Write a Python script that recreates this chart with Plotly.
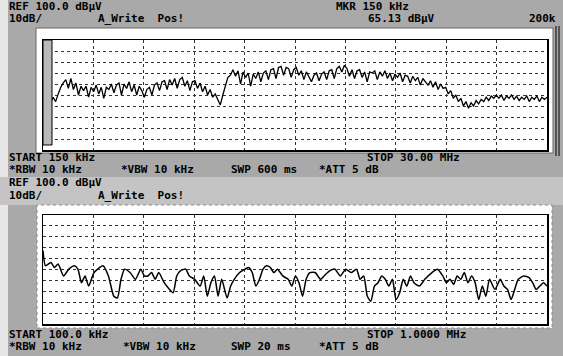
import plotly.graph_objects as go

# ---------------- data ----------------
# Top sweep: 150 kHz .. 30 MHz  (frequency in MHz, level in dBuV)
top_freq_mhz = [
    0.15, 0.30, 0.45, 0.60, 0.75, 0.90, 1.05, 1.20, 1.35, 1.50, 1.65, 1.80, 1.95, 2.10, 2.25, 2.40,
    2.55, 2.70, 2.85, 3.00, 3.15, 3.30, 3.45, 3.60, 3.75, 3.90, 4.05, 4.20, 4.35, 4.50, 4.65, 4.80,
    4.95, 5.10, 5.25, 5.40, 5.55, 5.70, 5.85, 6.00, 6.15, 6.30, 6.45, 6.60, 6.75, 6.90, 7.05, 7.20,
    7.35, 7.50, 7.65, 7.80, 7.95, 8.10, 8.25, 8.40, 8.55, 8.70, 8.85, 9.00, 9.15, 9.30, 9.45, 9.60,
    9.75, 9.90, 10.05, 10.20, 10.35, 10.50, 10.65, 10.80, 10.95, 11.10, 11.25, 11.40, 11.55, 11.70,
    11.85, 12.00, 12.15, 12.30, 12.45, 12.60, 12.75, 12.90, 13.05, 13.20, 13.35, 13.50, 13.65, 13.80,
    13.95, 14.10, 14.25, 14.40, 14.55, 14.70, 14.85, 15.00, 15.15, 15.30, 15.45, 15.60, 15.75, 15.90,
    16.05, 16.20, 16.35, 16.50, 16.65, 16.80, 16.95, 17.10, 17.25, 17.40, 17.55, 17.70, 17.85, 18.00,
    18.15, 18.30, 18.45, 18.60, 18.75, 18.90, 19.05, 19.20, 19.35, 19.50, 19.65, 19.80, 19.95, 20.10,
    20.25, 20.40, 20.55, 20.70, 20.85, 21.00, 21.15, 21.30, 21.45, 21.60, 21.75, 21.90, 22.05, 22.20,
    22.35, 22.50, 22.65, 22.80, 22.95, 23.10, 23.25, 23.40, 23.55, 23.70, 23.85, 24.00, 24.15, 24.30,
    24.45, 24.60, 24.75, 24.90, 25.05, 25.20, 25.35, 25.50, 25.65, 25.80, 25.95, 26.10, 26.25, 26.40,
    26.55, 26.70, 26.85, 27.00, 27.15, 27.30, 27.45, 27.60, 27.75, 27.90, 28.05, 28.20, 28.35, 28.50,
    28.65, 28.80, 28.95, 29.10, 29.25, 29.40, 29.55, 29.70, 29.85, 30.00,
]
top_level_dbuv = [
    52, 46, 53, 43, 48, 44, 51,
    57, 61, 64, 56, 65, 55, 61, 50, 58,
    54, 58, 48, 57, 53, 59, 51, 57, 47, 57,
    55, 60, 52, 59, 61, 50, 60, 56, 62, 53,
    59, 50, 58, 54, 48, 55, 57, 50, 59, 61,
    54, 62, 63, 55, 64, 59, 65, 56, 64, 66,
    58, 63, 54, 62, 63, 56, 61, 53, 58, 50,
    55, 48, 51, 46, 41, 50, 58, 66, 68, 73,
    67, 72, 60, 71, 66, 70, 58, 69, 65, 71,
    62, 70, 72, 64, 73, 74, 65, 75, 76, 68,
    75, 74, 66, 73, 75, 68, 72, 64, 71, 67,
    62, 68, 70, 63, 69, 71, 64, 72, 73, 65,
    74, 76, 71, 77, 74, 67, 73, 65, 72, 73,
    66, 71, 62, 71, 70, 72, 64, 71, 67, 72,
    65, 70, 63, 69, 66, 70, 62, 68, 67, 61,
    67, 63, 66, 59, 65, 62, 59, 63, 57, 62,
    55, 60, 56, 57, 51, 54, 47, 50, 44, 47,
    40, 44, 38, 43, 40, 45, 42, 46, 44, 48,
    45, 49, 47, 50, 47, 50, 45, 49, 47, 50,
    46, 49, 45, 48, 46, 49, 44, 48, 46, 49,
    44, 48, 46, 48,
]

# Bottom sweep: 100 kHz .. 1 MHz  (frequency in kHz, level in dBuV)
bot_freq_khz = [
    100, 104.5, 114.1, 120.5, 127.0, 136.6, 146.2, 155.9, 162.3, 168.7, 175.1, 181.5, 191.2, 207.2,
    216.8, 226.5, 232.9, 239.3, 245.7, 255.4, 265.0, 274.6, 281.0, 287.5, 293.9, 300.3, 306.7, 316.4,
    326.0, 332.4, 338.8, 345.2, 354.9, 361.3, 370.9, 380.6, 387.0, 393.4, 399.8, 406.2, 412.7, 419.1,
    428.7, 435.1, 441.5, 451.2, 460.8, 467.2, 473.6, 480.1, 486.5, 492.9, 499.3, 505.7, 512.2, 518.6,
    528.2, 537.8, 544.3, 550.7, 557.1, 563.5, 569.9, 576.4, 586.0, 595.6, 602.0, 611.7, 621.3, 630.9,
    640.6, 650.2, 659.8, 666.2, 672.7, 679.1, 685.5, 691.9, 698.3, 704.8, 711.2, 717.6, 724.0, 730.4,
    736.9, 743.3, 749.7, 756.1, 762.5, 772.2, 781.8, 794.6, 804.3, 813.9, 820.3, 826.7, 833.2, 839.6,
    846.0, 852.4, 858.8, 865.3, 871.7, 878.1, 884.5, 890.9, 897.4, 907.0, 916.6, 923.0, 929.5, 935.9,
    942.3, 948.7, 958.4, 968.0, 974.4, 980.8, 987.2, 993.7, 1000,
]
bot_level_dbuv = [
    67.4, 53.4, 56.5, 51.9, 55.0, 44.1, 50.3, 53.4, 50.3, 37.9, 44.1, 34.8, 47.2, 53.4,
    44.1, 25.5, 23.9, 41.0, 50.3, 47.2, 41.0, 50.3, 44.1, 44.1, 47.2, 41.0, 47.2, 37.9,
    31.7, 28.6, 44.1, 48.8, 50.3, 44.1, 41.0, 34.8, 44.1, 25.5, 37.9, 44.1, 25.5, 41.0,
    23.9, 34.8, 41.0, 47.2, 50.3, 51.9, 47.2, 34.8, 41.0, 50.3, 53.4, 51.9, 47.2, 50.3,
    44.1, 41.0, 34.8, 44.1, 37.9, 25.5, 41.0, 47.2, 47.2, 41.0, 44.1, 48.8, 50.3, 44.1,
    50.3, 47.2, 50.3, 41.0, 44.1, 25.5, 20.8, 34.8, 37.9, 44.1, 41.0, 34.8, 41.0, 22.4,
    28.6, 41.0, 34.8, 44.1, 37.9, 34.8, 41.0, 47.2, 50.3, 44.1, 37.9, 41.0, 36.3, 44.1,
    41.0, 47.2, 37.9, 44.1, 37.9, 22.4, 34.8, 25.5, 41.0, 31.7, 41.0, 34.8, 31.7, 22.4,
    31.7, 41.0, 44.1, 42.5, 37.9, 31.7, 34.8, 37.9, 34.8,
]

top_range_mhz = [0.15, 30.0]
bot_range_khz = [100.0, 1000.0]
level_range = [0, 100]

top_header = ["REF 100.0 dB\u00b5V", "10dB/", "A_Write  Pos!", "MKR 150 kHz", "65.13 dB\u00b5V", "200k"]
top_footer = ["START 150 kHz", "STOP 30.00 MHz", "*RBW 10 kHz", "*VBW 10 kHz", "SWP 600 ms", "*ATT 5 dB"]
bot_header = ["REF 100.0 dB\u00b5V", "10dB/", "A_Write  Pos!"]
bot_footer = ["START 100.0 kHz", "STOP 1.0000 MHz", "*RBW 10 kHz", "*VBW 10 kHz", "SWP 20 ms", "*ATT 5 dB"]

# ---------------- figure ----------------
W, H = 563, 356


def px(x):
    return x / W


def py(y):
    return 1 - y / H


fig = go.Figure()
fig.add_trace(go.Scatter(x=top_freq_mhz, y=top_level_dbuv, mode="lines",
                         line=dict(color="black", width=1.3), xaxis="x", yaxis="y",
                         showlegend=False, hoverinfo="skip"))
fig.add_trace(go.Scatter(x=bot_freq_khz, y=bot_level_dbuv, mode="lines",
                         line=dict(color="black", width=1.5, shape="spline", smoothing=0.6),
                         xaxis="x2", yaxis="y2", showlegend=False, hoverinfo="skip"))

xdom = [px(43), px(547)]
grid = dict(showgrid=True, gridcolor="#333333", gridwidth=1, griddash="dot",
            showticklabels=False, ticks="", zeroline=False,
            showline=True, linecolor="black", linewidth=1.5, mirror=True)

fig.update_layout(
    width=W, height=H, margin=dict(l=0, r=0, t=0, b=0),
    paper_bgcolor="#a9a9a9", plot_bgcolor="white",
    xaxis=dict(domain=xdom, range=top_range_mhz, tick0=top_range_mhz[0],
               dtick=(top_range_mhz[1] - top_range_mhz[0]) / 10, anchor="y", **grid),
    yaxis=dict(domain=[py(150), py(40)], range=level_range, dtick=10, anchor="x", **grid),
    xaxis2=dict(domain=xdom, range=bot_range_khz, tick0=bot_range_khz[0],
                dtick=(bot_range_khz[1] - bot_range_khz[0]) / 10, anchor="y2", **grid),
    yaxis2=dict(domain=[py(324), py(215)], range=level_range, dtick=10, anchor="x2", **grid),
)

shapes = []
shapes.append(dict(type="rect", xref="paper", yref="paper", x0=0, x1=px(8), y0=0, y1=1,
                   fillcolor="#e6e6e6", line_width=0, layer="below"))
shapes.append(dict(type="rect", xref="paper", yref="paper", x0=0, x1=1, y0=py(205), y1=py(177),
                   fillcolor="#c4c4c4", line_width=0, layer="below"))
shapes.append(dict(type="rect", xref="paper", yref="paper", x0=px(36), x1=px(553), y0=py(153), y1=py(28),
                   fillcolor="white", line=dict(color="#666666", width=1), layer="below"))
shapes.append(dict(type="rect", xref="paper", yref="paper", x0=px(37), x1=px(552), y0=py(328), y1=py(205),
                   fillcolor="white", line=dict(color="#888888", width=1, dash="dot"), layer="below"))
for xx in (556, 559):
    shapes.append(dict(type="line", xref="paper", yref="paper", x0=px(xx), x1=px(xx), y0=py(156), y1=py(26),
                       line=dict(color="black", width=1)))
shapes.append(dict(type="rect", xref="paper", yref="paper", x0=px(43), x1=px(52), y0=py(145), y1=py(40),
                   fillcolor="#b9b9b9", line=dict(color="black", width=1), layer="above"))
fig.update_layout(shapes=shapes)

FONT = dict(family="DejaVu Sans Mono", size=11, color="black")


def txt(s, x, y, anchor="left"):
    fig.add_annotation(text="<b>" + s + "</b>", x=px(x), y=py(y), xref="paper", yref="paper",
                       xanchor=anchor, yanchor="middle", showarrow=False, font=FONT,
                       borderpad=0)


txt(top_header[0], 8, 6)
txt(top_header[1], 8, 18)
txt(top_header[2], 97, 18)
txt(top_header[3], 335, 6)
txt(top_header[4], 367, 18)
txt(top_header[5], 557, 18, "right")

txt(top_footer[0], 8, 157)
txt(top_footer[1], 366, 157)
txt(top_footer[2], 8, 170)
txt(top_footer[3], 120, 170)
txt(top_footer[4], 230, 170)
txt(top_footer[5], 318, 170)

txt(bot_header[0], 8, 182.5)
txt(bot_header[1], 8, 195.5)
txt(bot_header[2], 97, 195.5)

txt(bot_footer[0], 8, 334)
txt(bot_footer[1], 366, 334)
txt(bot_footer[2], 8, 346)
txt(bot_footer[3], 122, 346)
txt(bot_footer[4], 230, 346)
txt(bot_footer[5], 318, 346)

fig.write_html("out.html", config={"displayModeBar": False, "staticPlot": True})

# remove the browser's default page margin so the figure sits at (0, 0)
with open("out.html", encoding="utf-8") as f:
    html = f.read()
html = html.replace("<body>", '<body style="margin:0;padding:0;overflow:hidden">', 1)
with open("out.html", "w", encoding="utf-8") as f:
    f.write(html)
